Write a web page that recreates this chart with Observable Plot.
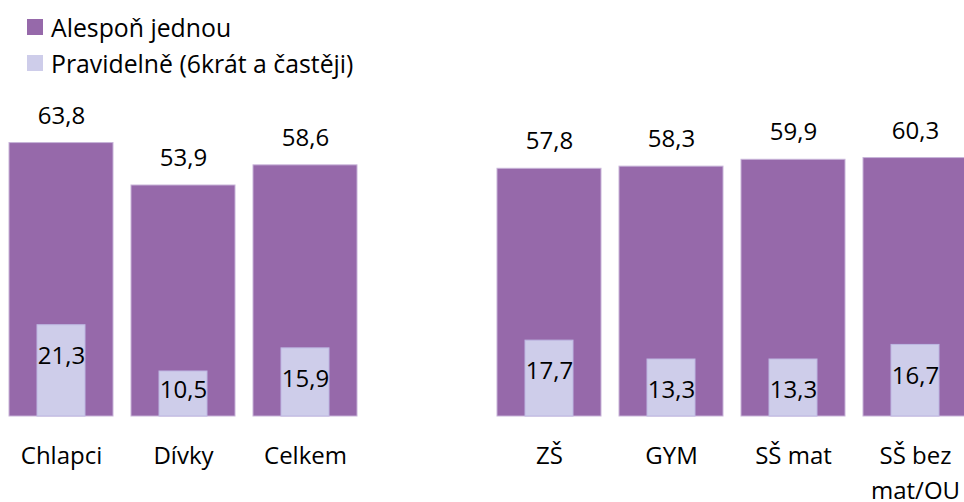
<!DOCTYPE html>
<html><head><meta charset="utf-8">
<script src="https://cdn.jsdelivr.net/npm/d3@7"></script>
<script src="https://cdn.jsdelivr.net/npm/@observablehq/plot@0.6"></script>
<style>
body{margin:0;background:#fff;font-family:"Open Sans",sans-serif;overflow:hidden}
#legend{height:86px;box-sizing:border-box;padding:9px 0 0 27px;font-size:24.8px;color:#000}
.row{display:flex;align-items:center;height:36px;white-space:nowrap}
.sw{width:16px;height:16px;margin-right:8px;flex:none}
</style></head><body>
<div id="legend"></div><div id="chart"></div>
<script>
const categories = ["Chlapci", "Dívky", "Celkem", "ZŠ", "GYM", "SŠ mat", "SŠ bez\nmat/OU"];
const alesponJednou = [63.8, 53.9, 58.6, 57.8, 58.3, 59.9, 60.3];
const pravidelne = [21.3, 10.5, 15.9, 17.7, 13.3, 13.3, 16.7];
const seriesNames = ["Alespoň jednou", "Pravidelně (6krát a častěji)"];
const seriesColors = ["#9669AA", "#CECDEA"];
const groupBreakAfter = 3;

const fmt = v => v.toFixed(1).replace(".", ",");
const data = categories.map((c, i) => ({cat: c, a: alesponJednou[i], p: pravidelne[i]}));
const domain = [...categories.slice(0, groupBreakAfter), "", ...categories.slice(groupBreakAfter)];

const legend = document.getElementById("legend");
seriesNames.forEach((n, i) => {
  const row = document.createElement("div"); row.className = "row";
  const sw = document.createElement("span"); sw.className = "sw"; sw.style.background = seriesColors[i];
  const t = document.createElement("span"); t.textContent = n;
  row.append(sw, t); legend.append(row);
});

const chart = Plot.plot({
  width: 964, height: 416,
  marginTop: 30, marginBottom: 86, marginLeft: 0, marginRight: 0,
  style: {fontFamily: "'Open Sans', sans-serif", fontSize: "24px", color: "#000", background: "#fff", overflow: "visible"},
  x: {domain, range: [0, 976], paddingInner: 0.1475, paddingOuter: 0.07375, axis: null, label: null},
  y: {domain: [0, 70], axis: null},
  marks: [
    Plot.barY(data, {x: "cat", y: "a", fill: seriesColors[0], stroke: "#c7b3d8", strokeWidth: 1}),
    Plot.barY(data, {x: "cat", y: "p", fill: seriesColors[1], insetLeft: 28, insetRight: 28, stroke: "#bdb7e2", strokeWidth: 1}),
    Plot.text(data, {x: "cat", y: "a", text: d => fmt(d.a), dy: -27, fill: "#000"}),
    Plot.text(data.filter(d => d.p >= 12), {x: "cat", y: "p", text: d => fmt(d.p), dy: 31, fill: "#000"}),
    Plot.text(data.filter(d => d.p < 12), {x: "cat", y: d => d.p / 2, text: d => fmt(d.p), dy: -4, fill: "#000"}),
    Plot.axisX({tickSize: 0, tickPadding: 23, fontSize: 24, lineHeight: 1.46, tickFormat: d => d, fill: "#000", label: null})
  ]
});
document.getElementById("chart").append(chart);
</script>
</body></html>
